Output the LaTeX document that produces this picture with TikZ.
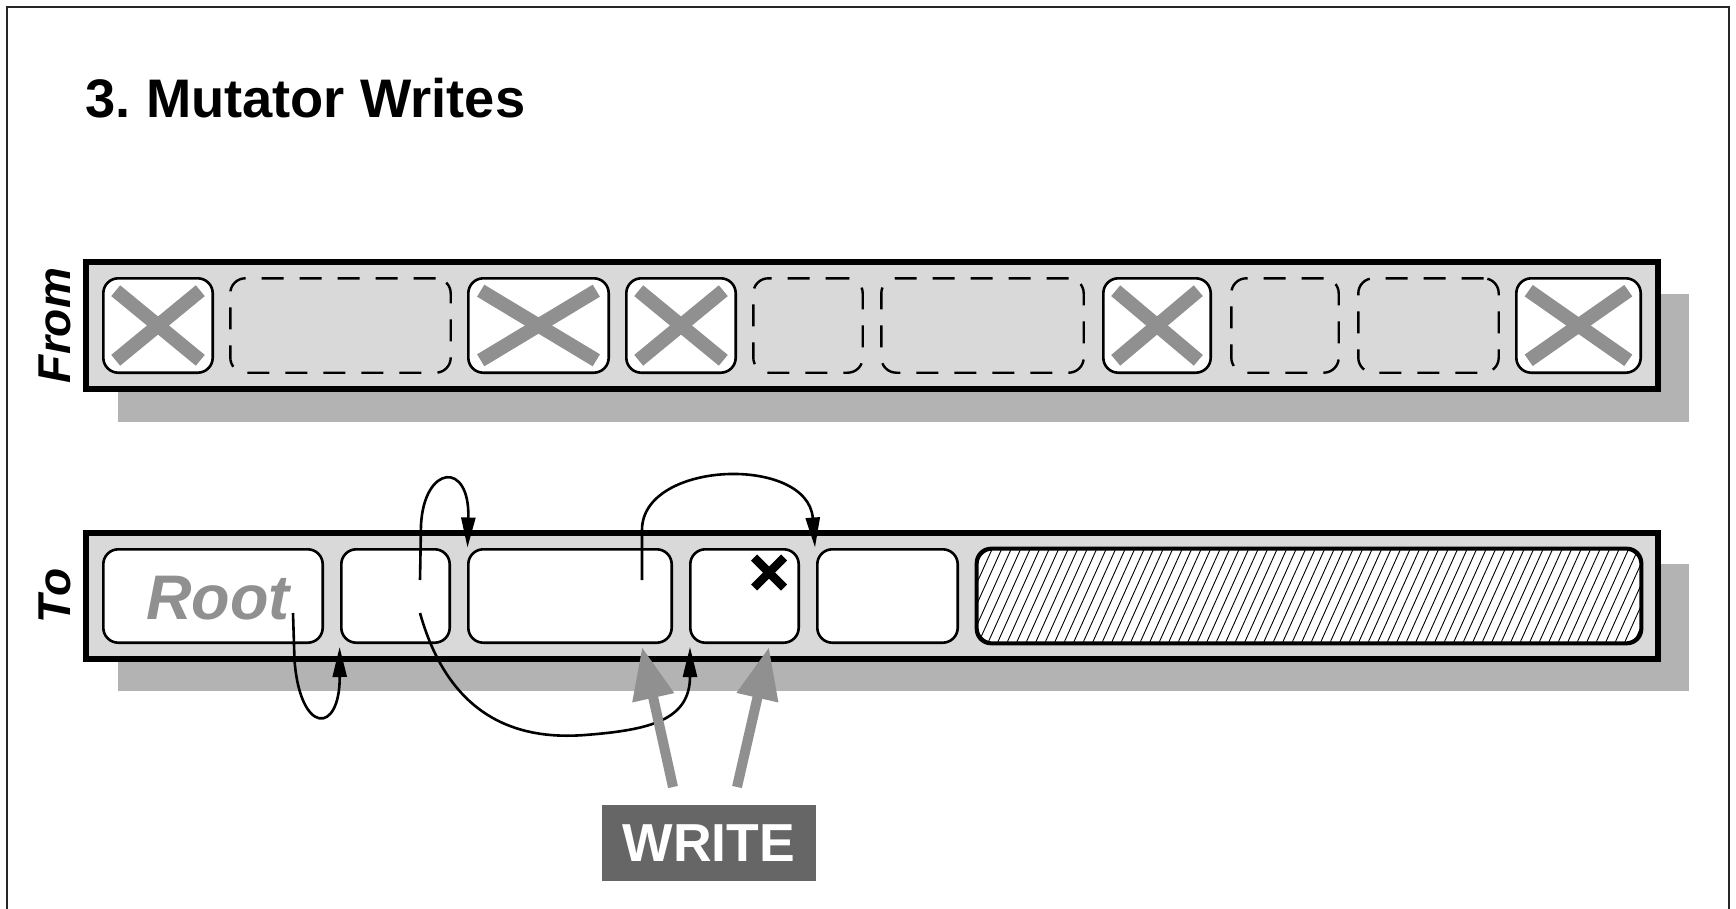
\documentclass[tikz,border=0pt]{standalone}
\usepackage{fontspec}
\setmainfont{Liberation Sans}
\usetikzlibrary{arrows.meta}
\definecolor{barfill}{HTML}{D9D9D9}
\definecolor{shadowc}{HTML}{B3B3B3}
\definecolor{xgray}{HTML}{909090}
\definecolor{writebg}{HTML}{666666}
\begin{document}
\begin{tikzpicture}[x=1pt,y=-1pt,
  bar/.style={draw=black, line width=6pt, fill=barfill},
  shadowbox/.style={fill=shadowc, draw=none},
  cell/.style={draw=black, line width=2.6pt, fill=white, rounded corners=15pt, rectangle, inner sep=0pt},
  freecell/.style={draw=black, line width=2.4pt, dash pattern=on 22pt off 16pt, rounded corners=15pt, rectangle, inner sep=0pt},
  fromrow/.style={minimum height=94.4pt},
  torow/.style={minimum height=93.4pt},
  xmark/.style={line width=14pt, draw=xgray, line cap=butt},
  ptr/.style={line width=2.6pt, -{Triangle[length=30pt,width=14pt]}},
  wrarrow/.style={line width=10pt, draw=xgray, -{Triangle[length=52pt,width=40pt]}},
]
\useasboundingbox (0,0) rectangle (1736,909);
% frame
\draw[line width=2pt, black!85] (7,915) -- (7,7) -- (1729,7) -- (1729,915);
% title
\node[anchor=base west, inner sep=0pt, font=\bfseries\fontsize{54.3}{60}\selectfont] (title) at (85.5,118) {3.\ Mutator Writes};
% shadows
\fill[shadowc] (118.3,294) rectangle (1689,421.7);
\fill[shadowc] (118.3,564) rectangle (1689,691);
% bars
\draw[bar] (86.3,262.3) rectangle (1657.8,389);
\draw[bar] (86.3,533) rectangle (1657.8,659.3);
% labels
\node[rotate=90, inner sep=0pt, font=\bfseries\itshape\fontsize{46}{46}\selectfont] (fromlbl) at (55,325.5) {From};
\node[rotate=90, inner sep=0pt, font=\bfseries\itshape\fontsize{46}{46}\selectfont] (tolbl) at (55,596) {To};
% from cells
\node[cell, fromrow, minimum width=109.4pt] (f1) at (158,325.5) {};
\node[freecell, fromrow, minimum width=220.4pt] (f2) at (340.5,325.5) {};
\node[cell, fromrow, minimum width=140.4pt] (f3) at (538.5,325.5) {};
\node[cell, fromrow, minimum width=109.4pt] (f4) at (681,325.5) {};
\node[freecell, fromrow, minimum width=109.4pt] (f5) at (808,325.5) {};
\node[freecell, fromrow, minimum width=202.4pt] (f6) at (982.5,325.5) {};
\node[cell, fromrow, minimum width=107.4pt] (f7) at (1157,325.5) {};
\node[freecell, fromrow, minimum width=107.4pt] (f8) at (1285,325.5) {};
\node[freecell, fromrow, minimum width=140.4pt] (f9) at (1428.5,325.5) {};
\node[cell, fromrow, minimum width=124.4pt] (f10) at (1578.5,325.5) {};
\foreach \c in {f1,f3,f4,f7,f10}{
  \draw[xmark] ([shift={(13.7,13.7)}]\c.north west) -- ([shift={(-13.7,-13.7)}]\c.south east);
  \draw[xmark] ([shift={(13.7,-13.7)}]\c.south west) -- ([shift={(-13.7,13.7)}]\c.north east);
}
% to cells
\node[cell, torow, minimum width=219.4pt] (t1) at (213,596) {};
\node[cell, torow, minimum width=108.4pt] (t2) at (395.5,596) {};
\node[cell, torow, minimum width=203.4pt] (t3) at (570,596) {};
\node[cell, torow, minimum width=108.4pt] (t4) at (744.5,596) {};
\node[cell, torow, minimum width=140.4pt] (t5) at (887.5,596) {};
\node[cell, torow, minimum width=663.4pt] (t6) at (1309,596) {};
\begin{scope}
  \clip[rounded corners=15pt] (t6.north west) rectangle (t6.south east);
  \foreach \x in {920,929.5,...,1660} \draw[line width=0.9pt] (\x,646) -- ++(45,-100);
\end{scope}
\draw[line width=2.6pt, rounded corners=15pt] (t6.north west) rectangle (t6.south east);
\node[anchor=base, inner sep=0pt, text=xgray, font=\bfseries\itshape\fontsize{63}{63}\selectfont] (roottxt) at (218,619) {Root};
% black x in t4
\draw[line width=8.5pt, line cap=butt] (754,557.5) -- (784,587.5);
\draw[line width=8.5pt, line cap=butt] (754,587.5) -- (784,557.5);
% pointer coordinates
\coordinate (p1s) at (293,613);
\coordinate (p1e) at (339.6,647);
\coordinate (p2s) at (420,580);
\coordinate (p2e) at (467.5,547.5);
\coordinate (p3s) at (420,613);
\coordinate (p3e) at (690,647);
\coordinate (p4s) at (642,580);
\coordinate (p4e) at (815,547.5);
\draw[ptr] (p1s) -- (294.5,660) .. controls (300,735) and (340,735) .. (p1e);
\draw[ptr] (p2s) -- (421,525) .. controls (424,465) and (470,460) .. (p2e);
\draw[ptr] (p3s) .. controls (450,720) and (520,740) .. (585,735) .. controls (650,730) and (690,720) .. (p3e);
\draw[ptr] (p4s) -- (642,530) .. controls (642,460) and (808,455) .. (p4e);
% write box and arrows
\node[fill=writebg, minimum width=214pt, minimum height=76pt, inner sep=0pt, text=white, font=\bfseries\fontsize{53.5}{53.5}\selectfont] (write) at (708.7,843) {WRITE};
\coordinate (wls) at (673,787);
\coordinate (wrs) at (737,787);
\coordinate (wle) at (642,647);
\coordinate (wre) at (769,647);
\draw[wrarrow] (wls) -- (wle);
\draw[wrarrow] (wrs) -- (wre);
\end{tikzpicture}
\end{document}
